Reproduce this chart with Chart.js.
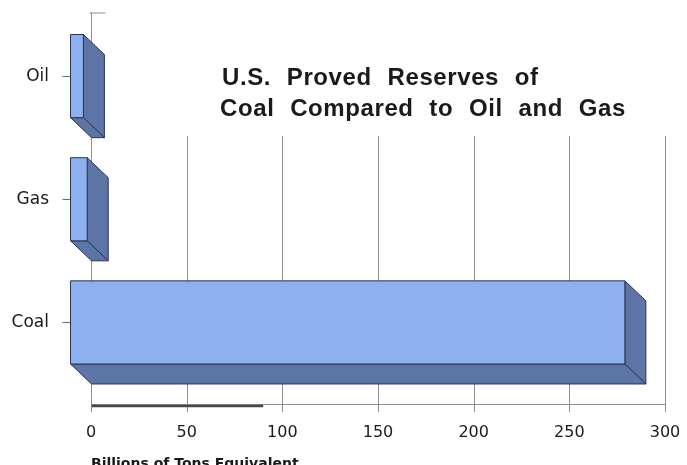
<!DOCTYPE html>
<html>
<head>
<meta charset="utf-8">
<script src="https://cdn.jsdelivr.net/npm/chart.js@4/dist/chart.umd.min.js"></script>
<style>
  html, body { margin: 0; padding: 0; background: #fff; overflow: hidden; }
  #frame { width: 687px; height: 465px; overflow: hidden; position: relative; }
  #box { width: 687px; height: 476px; position: absolute; left: 0; top: 0; }
</style>
</head>
<body>
<div id="frame"><div id="box"><canvas id="chart"></canvas></div></div>
<script>
// Proved reserves, billions of tons equivalent
const categories = ['Oil', 'Gas', 'Coal'];
const reserves = [7, 9, 290];
const xTicks = [0, 50, 100, 150, 200, 250, 300];
const titleLines = ['U.S.  Proved  Reserves  of', 'Coal  Compared  to  Oil  and  Gas'];
const axisTitle = 'Billions of Tons Equivalent';

// Look of the 3-D blocks and the back wall
const depth = { dx: 21, dy: 20 };
const gridTop = 136;
const colors = {
  front: '#8db0ef',
  side: '#5c74a6',
  edge: '#2b3553',
  axis: '#8e8e8e',
  rule: '#474747',
  text: '#1a1a1a'
};

const blocks3d = {
  id: 'blocks3d',
  beforeDatasetsDraw(chart) {
    const { ctx, chartArea: a, scales: { x, y } } = chart;
    ctx.save();
    ctx.strokeStyle = colors.axis;
    ctx.lineWidth = 1;
    const axisX = Math.round(x.getPixelForValue(0)) + 0.5;
    const floorY = Math.round(a.bottom) + 0.5;

    // vertical rules on the back wall, with short ticks under the floor line
    xTicks.forEach(v => {
      const px = Math.round(x.getPixelForValue(v)) + 0.5;
      ctx.beginPath();
      ctx.moveTo(px, v === 0 ? a.top - 22 : gridTop);
      ctx.lineTo(px, a.bottom + 8);
      ctx.stroke();
    });
    // small cap at the top of the value axis
    ctx.beginPath();
    ctx.moveTo(axisX - 2, a.top - 22 + 0.5);
    ctx.lineTo(axisX + 14, a.top - 22 + 0.5);
    ctx.stroke();
    // floor line
    ctx.beginPath();
    ctx.moveTo(axisX, floorY);
    ctx.lineTo(Math.round(x.getPixelForValue(300)) + 0.5, floorY);
    ctx.stroke();
    // heavier rule along the start of the floor
    ctx.strokeStyle = colors.rule;
    ctx.lineWidth = 2.5;
    ctx.beginPath();
    ctx.moveTo(axisX, floorY + 1.5);
    ctx.lineTo(x.getPixelForValue(90), floorY + 1.5);
    ctx.stroke();
    // category ticks in front of the blocks
    ctx.strokeStyle = '#6a6a6a';
    ctx.lineWidth = 1;
    categories.forEach((c, i) => {
      const py = Math.round(y.getPixelForTick(i) - depth.dy) + 0.5;
      ctx.beginPath();
      ctx.moveTo(axisX - depth.dx - 8, py);
      ctx.lineTo(axisX - depth.dx, py);
      ctx.stroke();
    });
    ctx.restore();
  },
  afterDatasetsDraw(chart) {
    const { ctx } = chart;
    const meta = chart.getDatasetMeta(0);
    const { dx, dy } = depth;
    ctx.save();
    ctx.lineJoin = 'round';
    meta.data.forEach(bar => {
      const p = bar.getProps(['x', 'y', 'base', 'height'], true);
      const x0 = p.base, x1 = p.x;
      const yT = p.y - p.height / 2, yB = p.y + p.height / 2;
      const fx0 = x0 - dx, fx1 = x1 - dx, fyT = yT - dy, fyB = yB - dy;

      ctx.fillStyle = colors.side;
      ctx.strokeStyle = colors.edge;
      ctx.lineWidth = 1;
      // right side
      ctx.beginPath();
      ctx.moveTo(fx1, fyT); ctx.lineTo(x1, yT); ctx.lineTo(x1, yB); ctx.lineTo(fx1, fyB);
      ctx.closePath(); ctx.fill(); ctx.stroke();
      // underside
      ctx.beginPath();
      ctx.moveTo(fx0, fyB); ctx.lineTo(fx1, fyB); ctx.lineTo(x1, yB); ctx.lineTo(x0, yB);
      ctx.closePath(); ctx.fill(); ctx.stroke();
      // front face
      ctx.fillStyle = colors.front;
      ctx.beginPath();
      ctx.rect(fx0, fyT, fx1 - fx0, fyB - fyT);
      ctx.fill(); ctx.stroke();
    });
    ctx.restore();
  },
  afterDraw(chart) {
    const { ctx } = chart;
    ctx.save();
    ctx.fillStyle = colors.text;
    ctx.font = 'bold 24px "Liberation Sans", Arial, sans-serif';
    if ('letterSpacing' in ctx) ctx.letterSpacing = '0.6px';
    if ('wordSpacing' in ctx) ctx.wordSpacing = '0.6px';
    ctx.textBaseline = 'alphabetic';
    ctx.textAlign = 'left';
    ctx.fillText(titleLines[0], 222, 85);
    ctx.fillText(titleLines[1], 220, 116);
    ctx.restore();
  }
};

// invisible tick marks only reserve the gap between labels and the axis
const hiddenTicks = (len) => ({
  display: true,
  drawOnChartArea: false,
  drawTicks: true,
  tickLength: len,
  color: 'rgba(0,0,0,0)'
});

new Chart(document.getElementById('chart'), {
  type: 'bar',
  data: {
    labels: categories,
    datasets: [{
      data: reserves,
      backgroundColor: 'rgba(0,0,0,0)',
      borderWidth: 0,
      categoryPercentage: 1,
      barPercentage: 0.675
    }]
  },
  options: {
    indexAxis: 'y',
    responsive: true,
    maintainAspectRatio: false,
    animation: false,
    layout: { padding: { top: 34.5, right: 22, left: 0, bottom: 0 } },
    plugins: {
      legend: { display: false },
      tooltip: { enabled: false },
      title: { display: false }
    },
    scales: {
      x: {
        type: 'linear',
        min: 0,
        max: 300,
        position: 'bottom',
        afterBuildTicks: s => { s.ticks = xTicks.map(v => ({ value: v })); },
        afterFit: s => { s.height = 72; },
        grid: hiddenTicks(19),
        border: { display: false },
        ticks: {
          padding: 0,
          color: colors.text,
          font: { family: '"DejaVu Sans"', size: 16 }
        },
        title: {
          display: true,
          text: axisTitle,
          align: 'start',
          color: colors.text,
          font: { family: '"DejaVu Sans"', size: 14, weight: 'bold' },
          padding: { top: 0, bottom: 3 }
        }
      },
      y: {
        type: 'category',
        afterFit: s => { s.width = 91; },
        grid: hiddenTicks(42),
        border: { display: false },
        ticks: {
          padding: 0,
          labelOffset: -20,
          color: colors.text,
          font: { family: '"DejaVu Sans"', size: 17 }
        }
      }
    }
  },
  plugins: [blocks3d]
});
</script>
</body>
</html>
